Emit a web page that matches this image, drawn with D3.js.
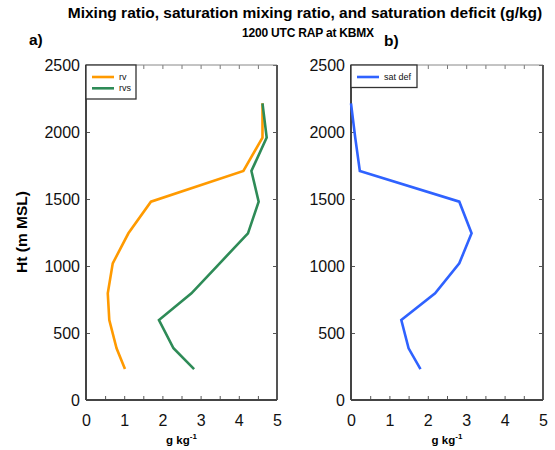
<!DOCTYPE html>
<html>
<head>
<meta charset="utf-8">
<script src="https://cdn.jsdelivr.net/npm/d3@7"></script>
<style>
  body { margin: 0; background: #fff; }
  svg { font-family: "Liberation Sans", Arial, sans-serif; }
</style>
</head>
<body>
<svg width="555" height="450"></svg>
<script>
// heights of the RAP levels (m MSL)
const heights = [231, 386, 597, 796, 1020, 1244, 1480, 1709, 1958, 2214]
// mixing ratio rv (g/kg)
const rv = [1.02, 0.80, 0.61, 0.57, 0.70, 1.11, 1.70, 4.12, 4.62, 4.62]
// saturation mixing ratio rvs (g/kg)
const rvs = [2.83, 2.29, 1.91, 2.76, 3.50, 4.24, 4.52, 4.33, 4.73, 4.62]
// saturation deficit (g/kg)
const satDef = [1.81, 1.50, 1.31, 2.19, 2.82, 3.14, 2.82, 0.23, 0.11, 0.0]

const xTicks = [0, 0.5, 1, 1.5, 2, 2.5, 3, 3.5, 4, 4.5, 5]
const yTicks = [0, 500, 1000, 1500, 2000, 2500]

const svg = d3.select('svg')

/* TITLES */
svg.append('text')
  .attr('x', 305).attr('y', 18)
  .attr('text-anchor', 'middle')
  .attr('font-size', 15.5).attr('font-weight', 'bold')
  .text('Mixing ratio, saturation mixing ratio, and saturation deficit (g/kg)')

svg.append('text')
  .attr('x', 308).attr('y', 37)
  .attr('text-anchor', 'middle')
  .attr('font-size', 12).attr('font-weight', 'bold')
  .attr('letter-spacing', -0.2)
  .text('1200 UTC RAP at KBMX')

svg.append('text')
  .attr('x', 29).attr('y', 45)
  .attr('font-size', 15.5).attr('font-weight', 'bold')
  .text('a)')

svg.append('text')
  .attr('x', 384).attr('y', 46)
  .attr('font-size', 15.5).attr('font-weight', 'bold')
  .text('b)')

svg.append('text')
  .attr('transform', 'translate(27, 232) rotate(-90)')
  .attr('text-anchor', 'middle')
  .attr('font-size', 15.5).attr('font-weight', 'bold')
  .text('Ht (m MSL)')

const yScale = d3.scaleLinear().domain([0, 2500]).range([400, 65])

function drawPanel(x0, x1, series, legend) {
  const xScale = d3.scaleLinear().domain([0, 5]).range([x0, x1])
  const g = svg.append('g')

  /* BOTTOM AXIS */
  g.append('g')
    .attr('transform', `translate(0, ${yScale(0)})`)
    .call(d3.axisBottom(xScale).tickValues(xTicks).tickSize(-4).tickPadding(15)
      .tickFormat(d => Number.isInteger(d) ? d : ''))
    .call(a => a.select('.domain').remove())
    .call(a => a.selectAll('.tick line').attr('stroke', '#555'))
    .call(a => a.selectAll('text').attr('font-size', 16).attr('fill', '#111'))

  /* TOP AXIS */
  g.append('g')
    .attr('transform', `translate(0, ${yScale(2500)})`)
    .call(d3.axisTop(xScale).tickValues(xTicks).tickSize(-4).tickFormat(''))
    .call(a => a.select('.domain').remove())
    .call(a => a.selectAll('.tick line').attr('stroke', '#777'))

  /* LEFT AXIS */
  g.append('g')
    .attr('transform', `translate(${x0}, 0)`)
    .call(d3.axisLeft(yScale).tickValues(yTicks).tickSize(-4).tickPadding(6)
      .tickFormat(d3.format('d')))
    .call(a => a.select('.domain').remove())
    .call(a => a.selectAll('.tick line').attr('stroke', '#555'))
    .call(a => a.selectAll('text').attr('font-size', 16).attr('fill', '#111'))

  /* RIGHT AXIS */
  g.append('g')
    .attr('transform', `translate(${x1}, 0)`)
    .call(d3.axisRight(yScale).tickValues(yTicks).tickSize(-4).tickFormat(''))
    .call(a => a.select('.domain').remove())
    .call(a => a.selectAll('.tick line').attr('stroke', '#555'))

  /* FRAME */
  const yb = yScale(0), yt = yScale(2500)
  g.append('line').attr('x1', x0).attr('x2', x1).attr('y1', yt).attr('y2', yt)
    .attr('stroke', '#888').attr('stroke-width', 1)
  g.append('line').attr('x1', x1).attr('x2', x1).attr('y1', yt).attr('y2', yb)
    .attr('stroke', '#555').attr('stroke-width', 2)
  g.append('line').attr('x1', x0).attr('x2', x1).attr('y1', yb).attr('y2', yb)
    .attr('stroke', '#444').attr('stroke-width', 2)
  g.append('line').attr('x1', x0).attr('x2', x0).attr('y1', yt).attr('y2', yb)
    .attr('stroke', '#444').attr('stroke-width', 2)

  /* X LABEL */
  const lab = g.append('text')
    .attr('x', (x0 + x1) / 2).attr('y', 444)
    .attr('text-anchor', 'middle')
    .attr('font-size', 11.5).attr('font-weight', 'bold')
  lab.append('tspan').text('g kg')
  lab.append('tspan').attr('dy', -5).attr('font-size', 8).text('-1')

  /* LINES */
  const line = d3.line()
    .x(d => xScale(d[0]))
    .y(d => yScale(d[1]))

  series.forEach(s => {
    g.append('path')
      .datum(s.values.map((v, i) => [v, heights[i]]))
      .attr('fill', 'none')
      .attr('stroke', s.color)
      .attr('stroke-width', 2.6)
      .attr('stroke-linejoin', 'miter')
      .attr('d', line)
  })

  /* LEGEND */
  const lg = g.append('g')
  lg.append('rect')
    .attr('x', x0).attr('y', yt)
    .attr('width', legend.w).attr('height', 11 + series.length * 11.5)
    .attr('fill', '#fff').attr('stroke', '#333').attr('stroke-width', 1.3)
  series.forEach((s, i) => {
    const yy = yt + 12 + i * 11.3
    lg.append('line')
      .attr('x1', x0 + 6).attr('x2', x0 + 28)
      .attr('y1', yy).attr('y2', yy)
      .attr('stroke', s.color).attr('stroke-width', 2.6)
    lg.append('text')
      .attr('x', x0 + 33).attr('y', yy + 3)
      .attr('font-size', 9).attr('fill', '#111')
      .text(s.name)
  })
}

drawPanel(86, 277, [
  { name: 'rv', values: rv, color: '#ff9a00' },
  { name: 'rvs', values: rvs, color: '#2e8b57' }
], { w: 50 })

drawPanel(351, 543, [
  { name: 'sat def', values: satDef, color: '#2f62ff' }
], { w: 66 })
</script>
</body>
</html>
